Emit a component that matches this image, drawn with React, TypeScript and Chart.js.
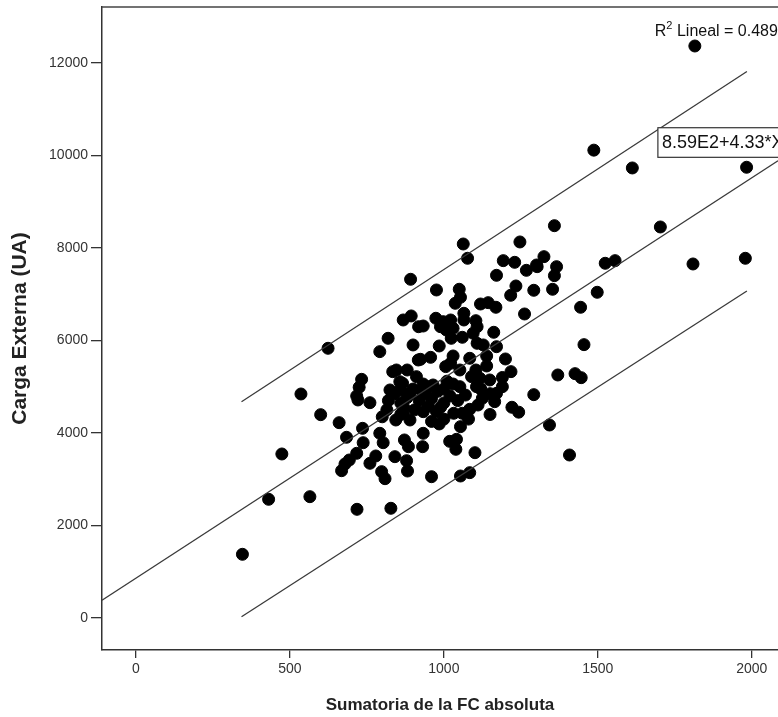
import React, { useEffect, useRef } from "react";
import { Chart, registerables } from "chart.js";

Chart.register(...registerables);

// Sumatoria de la FC absoluta (x)
const fcSum: number[] = [
  346, 431, 474, 536, 565, 600, 624, 660, 684, 693, 679, 668, 717, 718, 828, 736, 738, 760, 779, 798,
  809, 792, 803, 717, 725, 733, 721, 760, 792, 819, 892, 868, 894, 918, 933, 974, 976, 998, 1022, 1050,
  1054, 1037, 1063, 1077, 1065, 1065, 1104, 1108, 989, 1008, 1030, 1024, 1060, 1095, 1119, 1144, 1169, 1171, 1193, 1230,
  1247, 1268, 1301, 1234, 1217, 1292, 1262, 1162, 1108, 1128, 1171, 900, 985, 924, 957, 1030, 1022, 1084, 1139, 1139,
  1052, 1104, 1006, 1218, 846, 881, 911, 857, 933, 965, 1030, 1052, 1090, 1117, 1149, 1171, 1106, 1292, 1325, 1303,
  1366, 1359, 1359, 1353, 1498, 1524, 1556, 1444, 1455, 1370, 1426, 1446, 1343, 1408, 1243, 1221, 1165, 1101, 1084, 1054,
  960, 882, 985, 1054, 1032, 933, 976, 1019, 1039, 1041, 931, 933, 872, 885, 841, 879, 844, 890, 868, 1060,
  1084, 1111, 1487, 1612, 1983, 1703, 1809, 1979, 1815, 834, 866, 825, 857, 890, 917,
  820, 840, 860, 880, 900, 920, 940, 960, 980, 1000, 1020, 870, 905, 950, 990, 1010, 1045, 1070, 860, 950,
  1000, 930, 1120, 1150, 1190, 1125, 815, 800, 1080, 1150, 1000, 960, 1200, 1190,
];

// Carga Externa (UA) (y)
const cargaExterna: number[] = [
  1377, 2566, 3546, 4843, 2623, 4396, 5831, 4223, 3907, 3416, 3330, 3185, 3561, 2350, 2372, 4101, 3790, 3345, 3503, 3164,
  3012, 3993, 3790, 4800, 4988, 5160, 4714, 4655, 5759, 6047, 7323, 6443, 6530, 6298, 6313, 6480, 7092, 6407, 6443, 7107,
  6934, 6804, 8086, 7777, 6588, 6443, 6428, 6298, 6298, 6227, 6263, 6047, 6069, 6155, 6789, 6818, 6718, 7409, 7726, 7690,
  8130, 7517, 7632, 7178, 6977, 7085, 6573, 6177, 5939, 5903, 5866, 5903, 5881, 5593, 5636, 5665, 5507, 5615, 5665, 5449,
  5362, 5362, 5435, 5326, 5362, 5362, 5218, 5110, 5059, 5038, 5059, 5001, 5218, 5182, 5146, 4858, 5001, 4829, 7812, 7596,
  7596, 7402, 8482, 7107, 7042, 7669, 7726, 6718, 5910, 5254, 5283, 5196, 4173, 3524, 4450, 4556, 4677, 3574, 3142, 3070,
  3055, 3178, 4195, 4137, 4426, 4461, 4461, 3819, 3647, 3863, 3704, 3993, 3849, 3704, 3488, 3401, 4281, 4281, 4426, 4426,
  4512, 4605, 10115, 9730, 9745, 8454, 7654, 7777, 12367, 5326, 5074, 4930, 4930, 4858, 5578,
  4700, 4850, 4650, 4760, 4950, 4700, 4850, 4750, 4900, 4650, 4800, 4550, 4500, 4580, 4560, 5120, 4700, 4820, 4400, 5000,
  4950, 4900, 4950, 4850, 5000, 4750, 4500, 4350, 4300, 4400, 4300, 4250, 5600, 5200,
];

// Linear fit: 8.59E2 + 4.33*X
const fitIntercept = 859;
const fitSlope = 4.33;

// Prediction interval lines
const intervalX: number[] = [343, 1984];
const upperInterval: number[] = [4677, 11815];
const lowerInterval: number[] = [28, 7070];

const xTicks: number[] = [0, 500, 1000, 1500, 2000];
const yTicks: number[] = [0, 2000, 4000, 6000, 8000, 10000, 12000];

const X_MIN = -110;
const X_MAX = 2085;
const Y_MIN = -692;
const Y_MAX = 13210;

const rSquaredText = "Lineal = 0.489";
const equationText = "8.59E2+4.33*X";

const FONT = "'Liberation Sans', Arial, Helvetica, sans-serif";

export default function App() {
  const canvasRef = useRef<HTMLCanvasElement | null>(null);

  useEffect(() => {
    const canvas = canvasRef.current;
    if (!canvas) return;

    const points = fcSum.map((x, i) => ({ x, y: cargaExterna[i] }));
    const fitLine = [X_MIN, X_MAX].map((x) => ({ x, y: fitIntercept + fitSlope * x }));
    const upperLine = intervalX.map((x, i) => ({ x, y: upperInterval[i] }));
    const lowerLine = intervalX.map((x, i) => ({ x, y: lowerInterval[i] }));

    const annotations = {
      id: "annotations",
      afterDraw(chart: any) {
        const { ctx, chartArea, scales } = chart;
        const xs = scales.x;
        const ys = scales.y;
        ctx.save();
        // top frame line
        ctx.strokeStyle = "#444";
        ctx.lineWidth = 1.5;
        ctx.beginPath();
        ctx.moveTo(chartArea.left, chartArea.top);
        ctx.lineTo(chart.width + 5, chartArea.top);
        ctx.stroke();

        // R² label
        const rx = xs.getPixelForValue(1685);
        const ry = ys.getPixelForValue(12580);
        ctx.fillStyle = "#111";
        ctx.textBaseline = "alphabetic";
        ctx.textAlign = "left";
        ctx.font = `16px ${FONT}`;
        ctx.fillText("R", rx, ry);
        const rw = ctx.measureText("R").width;
        ctx.font = `11px ${FONT}`;
        ctx.fillText("2", rx + rw, ry - 7);
        const sw = ctx.measureText("2").width;
        ctx.font = `16px ${FONT}`;
        ctx.fillText(" " + rSquaredText, rx + rw + sw, ry);

        // equation box
        const bx = xs.getPixelForValue(1695);
        const by = ys.getPixelForValue(10600);
        const bb = ys.getPixelForValue(9960);
        ctx.font = `18px ${FONT}`;
        const tw = ctx.measureText(equationText).width;
        ctx.fillStyle = "#fff";
        ctx.fillRect(bx, by, tw + 10, bb - by);
        ctx.strokeStyle = "#333";
        ctx.lineWidth = 1.2;
        ctx.strokeRect(bx, by, tw + 10, bb - by);
        ctx.fillStyle = "#111";
        ctx.textBaseline = "middle";
        ctx.fillText(equationText, bx + 4, (by + bb) / 2 + 1);
        ctx.restore();
      },
    };

    const chart = new Chart(canvas, {
      type: "scatter",
      data: {
        datasets: [
          {
            label: "fit",
            type: "line",
            data: fitLine,
            borderColor: "#3a3a3a",
            borderWidth: 1.3,
            pointRadius: 0,
            fill: false,
          },
          {
            label: "upper",
            type: "line",
            data: upperLine,
            borderColor: "#3a3a3a",
            borderWidth: 1.3,
            pointRadius: 0,
            fill: false,
          },
          {
            label: "lower",
            type: "line",
            data: lowerLine,
            borderColor: "#3a3a3a",
            borderWidth: 1.3,
            pointRadius: 0,
            fill: false,
          },
          {
            label: "Carga Externa",
            data: points,
            backgroundColor: "#000",
            borderColor: "#000",
            pointRadius: 6,
            pointHoverRadius: 6,
          },
        ],
      },
      options: {
        animation: false,
        responsive: true,
        maintainAspectRatio: false,
        layout: { padding: { top: 7, right: 0, left: 0, bottom: 0 } },
        plugins: {
          legend: { display: false },
          tooltip: { enabled: false },
        },
        events: [],
        scales: {
          x: {
            type: "linear",
            position: "bottom",
            min: X_MIN,
            max: X_MAX,
            afterBuildTicks: (scale: any) => {
              scale.ticks = xTicks.map((v) => ({ value: v }));
            },
            afterFit: (scale: any) => {
              scale.height = 67;
              scale.paddingLeft = 0;
              scale.paddingRight = 0;
            },
            grid: {
              display: true,
              drawOnChartArea: false,
              drawTicks: true,
              tickLength: 8,
              color: "#333",
              lineWidth: 1.3,
            },
            border: { display: true, color: "#333", width: 1.5 },
            ticks: {
              color: "#333",
              font: { family: FONT, size: 14 },
              padding: 3,
              maxRotation: 0,
              callback: (v: any) => String(v),
            },
            title: {
              display: true,
              text: "Sumatoria de la FC absoluta",
              color: "#222",
              font: { family: FONT, size: 17, weight: "bold" },
              padding: { top: 0, bottom: 1 },
            },
          },
          y: {
            type: "linear",
            min: Y_MIN,
            max: Y_MAX,
            afterBuildTicks: (scale: any) => {
              scale.ticks = yTicks.map((v) => ({ value: v }));
            },
            afterFit: (scale: any) => {
              scale.width = 102;
              scale.paddingTop = 0;
              scale.paddingBottom = 0;
            },
            grid: {
              display: true,
              drawOnChartArea: false,
              drawTicks: true,
              tickLength: 11,
              color: "#333",
              lineWidth: 1.3,
            },
            border: { display: true, color: "#333", width: 1.5 },
            ticks: {
              color: "#333",
              font: { family: FONT, size: 14 },
              padding: 3,
              callback: (v: any) => String(v),
            },
            title: {
              display: true,
              text: "Carga Externa (UA)",
              color: "#222",
              font: { family: FONT, size: 21, weight: "bold" },
              padding: { top: 8, bottom: 0 },
            },
          },
        },
      },
      plugins: [annotations],
    } as any);

    return () => {
      chart.destroy();
    };
  }, []);

  return (
    <div
      style={{
        position: "fixed",
        left: 0,
        top: 0,
        width: "778px",
        height: "717px",
        overflow: "hidden",
        background: "#fff",
      }}
    >
      <div style={{ position: "relative", width: "785px", height: "717px" }}>
        <canvas ref={canvasRef} />
      </div>
    </div>
  );
}
